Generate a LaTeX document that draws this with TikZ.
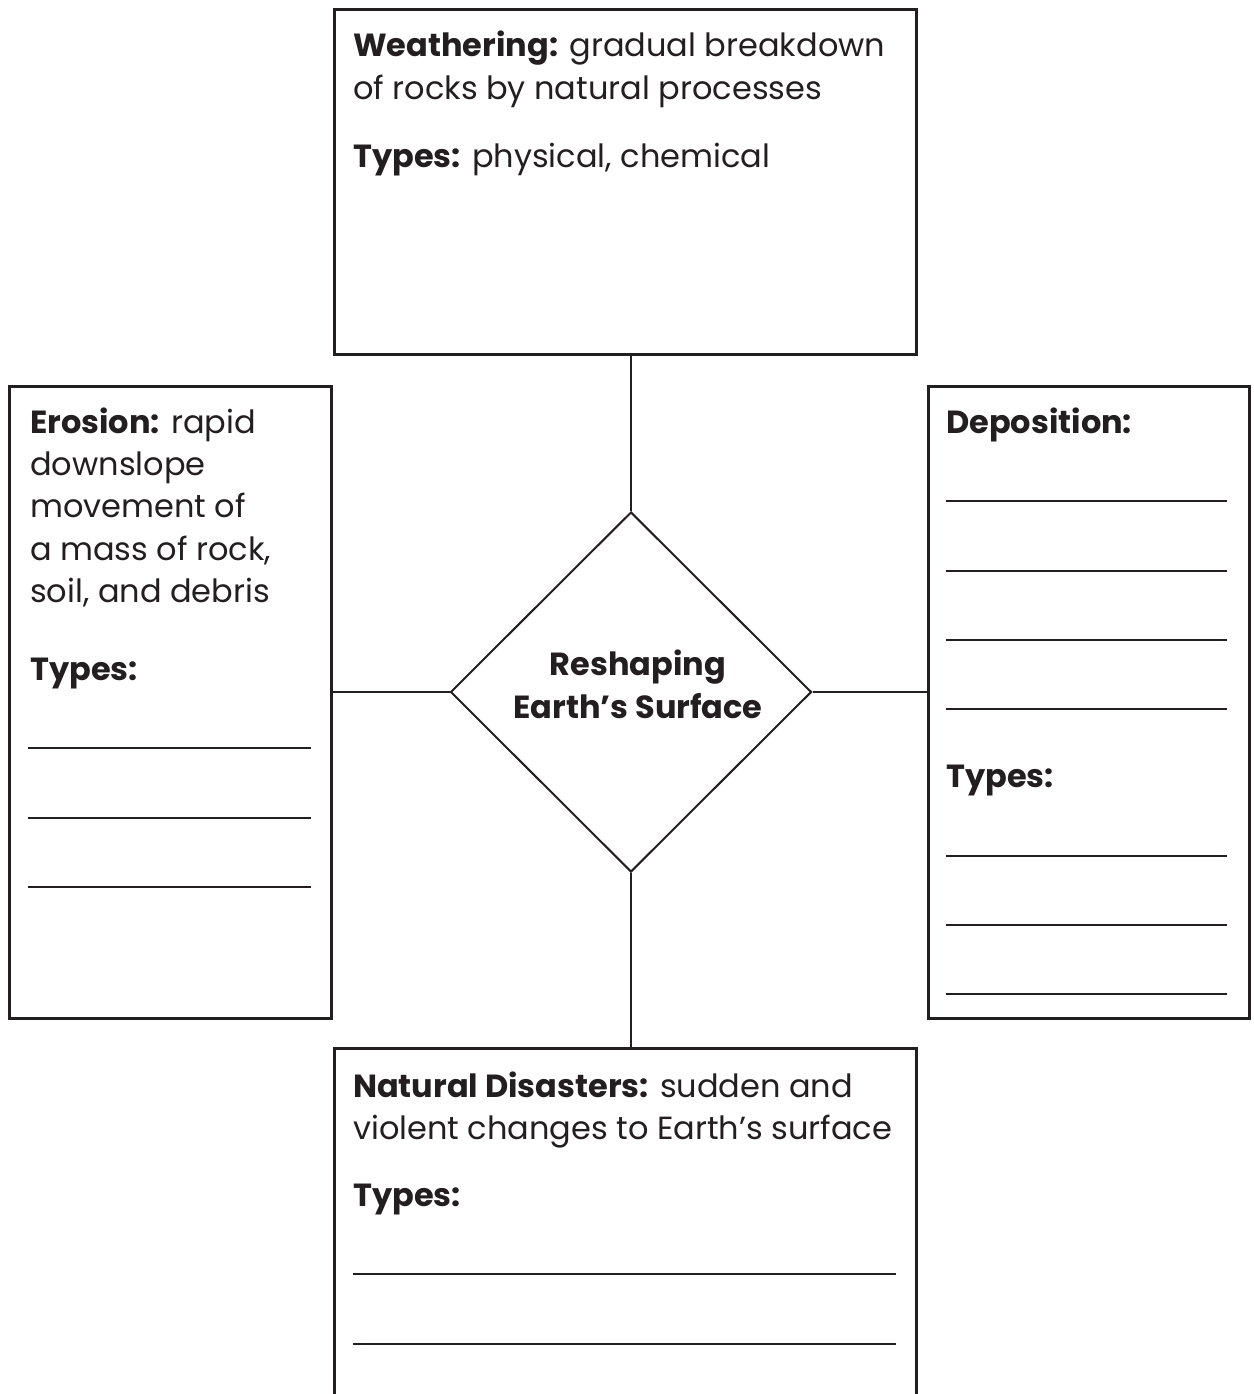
\documentclass[tikz,border=0pt]{standalone}
\usepackage{fontspec}
\setmainfont{Poppins}
\usetikzlibrary{shapes.geometric}
\definecolor{ink}{HTML}{231F20}
\begin{document}
\begin{tikzpicture}[x=1pt,y=-1pt,
  box/.style={draw=ink, line width=2.6pt, rectangle, inner sep=0pt, anchor=north west},
  link/.style={draw=ink, line width=2pt},
  blank/.style={draw=ink, line width=2pt},
  txt/.style={anchor=base west, inner sep=0pt, text=ink, font=\fontsize{32}{40}\selectfont},
  hubtxt/.style={anchor=base, inner sep=0pt, text=ink, font=\fontsize{32}{40}\selectfont\bfseries},
]
\clip (0,0) rectangle (1253,1394);
\fill[white] (0,0) rectangle (1253,1394);

% boxes
\node[box, minimum width=582pt, minimum height=345pt] (weather) at (333,8) {};
\node[box, minimum width=322pt, minimum height=632pt] (erosion) at (8,385) {};
\node[box, minimum width=321pt, minimum height=632pt] (depo) at (927,385) {};
\node[box, minimum width=582pt, minimum height=400pt] (disaster) at (333,1047) {};

% central diamond
\node[draw=ink, line width=2pt, diamond, aspect=1, inner sep=0pt,
      minimum width=361pt, minimum height=360pt] (hub) at (631,692) {};
\node[hubtxt] (hub1) at (638,675) {Reshaping};
\node[hubtxt] (hub2) at (638,718) {Earth’s Surface};

% connectors
\draw[link] (hub.north) -- (hub.north |- weather.south);
\draw[link] (hub.south) -- (hub.south |- disaster.north);
\draw[link] (hub.west) -- (hub.west -| erosion.east);
\draw[link] (hub.east) -- (hub.east -| depo.west);

% weathering
\node[txt] (w1) at (353,57) {\textbf{Weathering:} gradual breakdown};
\node[txt] (w2) at (353,100) {of rocks by natural processes};
\node[txt] (w3) at (353,167) {\textbf{Types:} physical, chemical};

% erosion
\node[txt] (e1) at (30,433) {\textbf{Erosion:} rapid};
\node[txt] (e2) at (30,475) {downslope};
\node[txt] (e3) at (30,517) {movement of};
\node[txt] (e4) at (30,560) {a mass of rock,};
\node[txt] (e5) at (30,602) {soil, and debris};
\node[txt] (e6) at (30,680) {\textbf{Types:}};
\foreach \yy in {748,818,887} \draw[blank] (28,\yy) -- (311,\yy);

% deposition
\node[txt] (d1) at (946,433) {\textbf{Deposition:}};
\node[txt] (d2) at (946,787) {\textbf{Types:}};
\foreach \yy in {501,571,640,709,856,925,994} \draw[blank] (946,\yy) -- (1227,\yy);

% natural disasters
\node[txt] (n1) at (353,1097) {\textbf{Natural Disasters:} sudden and};
\node[txt] (n2) at (353,1139) {violent changes to Earth’s surface};
\node[txt] (n3) at (353,1206) {\textbf{Types:}};
\foreach \yy in {1274,1344} \draw[blank] (353,\yy) -- (896,\yy);
\end{tikzpicture}
\end{document}
